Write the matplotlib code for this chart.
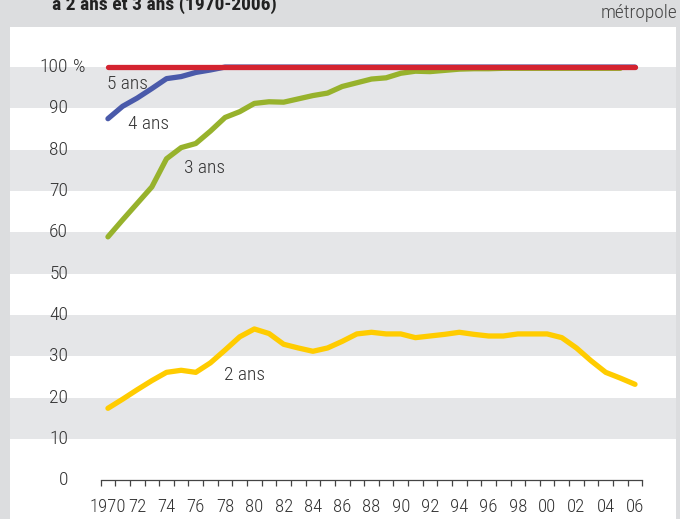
import matplotlib
matplotlib.use("Agg")
import matplotlib.pyplot as plt
from matplotlib.ticker import FixedLocator
from matplotlib import font_manager as fm

_avail = set(f.name for f in fm.fontManager.ttflist)
_cands = ['Roboto Condensed', 'Archivo Narrow', 'PT Sans Narrow', 'Liberation Sans Narrow',
          'Fira Sans Condensed', 'IBM Plex Sans Condensed', 'Encode Sans Condensed',
          'Barlow Semi Condensed', 'Pragati Narrow', 'Roboto']
_font = next((c for c in _cands if c in _avail), 'DejaVu Sans')
plt.rcParams['font.family'] = [_font, 'DejaVu Sans']

years = list(range(1970, 2007))
ans5 = [100] * 37
ans4 = [87.5, 90.5, 92.5, 94.8, 97.2, 97.7, 98.7, 99.3, 100, 100,
        100, 100, 100, 100, 100, 100, 100, 100, 100, 100,
        100, 100, 100, 100, 100, 100, 100, 100, 100, 100,
        100, 100, 100, 100, 100, 100, 100]
years3 = list(range(1970, 2006))
ans3 = [58.9, 63.0, 67.0, 71.0, 77.8, 80.5, 81.5, 84.5, 87.8, 89.2,
        91.2, 91.6, 91.5, 92.3, 93.1, 93.7, 95.3, 96.2, 97.1, 97.4,
        98.5, 99.0, 98.9, 99.2, 99.5, 99.6, 99.6, 99.7, 99.7, 99.7,
        99.7, 99.7, 99.7, 99.7, 99.7, 99.7]
ans2 = [17.4, 19.6, 21.9, 24.1, 26.1, 26.6, 26.1, 28.4, 31.5, 34.7,
        36.6, 35.5, 32.9, 32.0, 31.2, 32.0, 33.6, 35.4, 35.8, 35.4,
        35.4, 34.5, 34.9, 35.3, 35.8, 35.3, 34.9, 34.9, 35.4, 35.4,
        35.4, 34.5, 32.0, 28.9, 26.1, 24.7, 23.2]

ytick_vals = [0, 10, 20, 30, 40, 50, 60, 70, 80, 90, 100]
xtick_years = list(range(1970, 2007, 2))
xtick_labels = ['1970'] + [str(y)[2:] for y in xtick_years[1:]]

c_red = '#d42330'
c_blue = '#4a5aaa'
c_green = '#97b22c'
c_yellow = '#ffcc00'
c_text = '#333333'
bg = '#dcdddf'
band = '#e5e6e8'
fs = 14
fw = 'light'

fig = plt.figure(figsize=(6.8, 5.19), dpi=100, facecolor=bg)
ax = fig.add_axes([10/680, 0, 666/680, 1 - 27/519])
ax.set_facecolor('white')

ax.set_xlim(1963.31, 2008.8)
ax.set_ylim(-9.4, 109.7)

for lo in [10, 30, 50, 70, 90]:
    ax.axhspan(lo, lo + 10, color=band, lw=0, zorder=0)

kw = dict(lw=3.8, solid_capstyle='round', solid_joinstyle='round')
ax.plot(years, ans2, color=c_yellow, zorder=3, **kw)
ax.plot(years3, ans3, color=c_green, zorder=3, **kw)
ax.plot(years, ans4, color=c_blue, zorder=3, **kw)
ax.plot(years, ans5, color=c_red, zorder=4, **kw)

for s in ['top', 'right', 'left']:
    ax.spines[s].set_visible(False)
ax.spines['bottom'].set_position(('data', 0))
ax.spines['bottom'].set_bounds(1969.5, 2006.5)
ax.spines['bottom'].set_color('#444444')
ax.spines['bottom'].set_linewidth(0.9)

ax.set_yticks([])
ax.xaxis.set_major_locator(FixedLocator(xtick_years))
ax.set_xticklabels(xtick_labels, fontweight=fw)
ax.xaxis.set_minor_locator(FixedLocator([y - 0.5 for y in years] + [2006.5]))
ax.tick_params(axis='x', which='major', length=0, pad=13, labelsize=13.5, labelcolor=c_text)
ax.tick_params(axis='x', which='minor', length=4, width=0.9, color='#444444', direction='out')

ylab_x = (68 - 10) / 666
for v in ytick_vals:
    ax.text(ylab_x, v, str(v), transform=ax.get_yaxis_transform(),
            ha='right', va='center', fontsize=fs, fontweight=fw, color=c_text)
ax.text(ylab_x + 5/666, 100, '%', transform=ax.get_yaxis_transform(),
        ha='left', va='center', fontsize=fs, fontweight=fw, color=c_text)

ax.text(1969.95, 95.8, '5 ans', ha='left', va='center', fontsize=fs, fontweight=fw, color=c_text)
ax.text(1971.4, 86.2, '4 ans', ha='left', va='center', fontsize=fs, fontweight=fw, color=c_text)
ax.text(1975.2, 75.5, '3 ans', ha='left', va='center', fontsize=fs, fontweight=fw, color=c_text)
ax.text(1977.9, 25.4, '2 ans', ha='left', va='center', fontsize=fs, fontweight=fw, color=c_text)

fig.text(677/680, 1 - 13/519, 'métropole', ha='right', va='center', fontsize=fs,
         fontweight=fw, color='#444444')
fig.text(52/680, 1 - 10/519, 'à 2 ans et 3 ans (1970-2006)', ha='left', va='baseline',
         fontsize=14, fontweight='bold', color='#222222')

fig.savefig('out.png', dpi=100, facecolor=bg)
